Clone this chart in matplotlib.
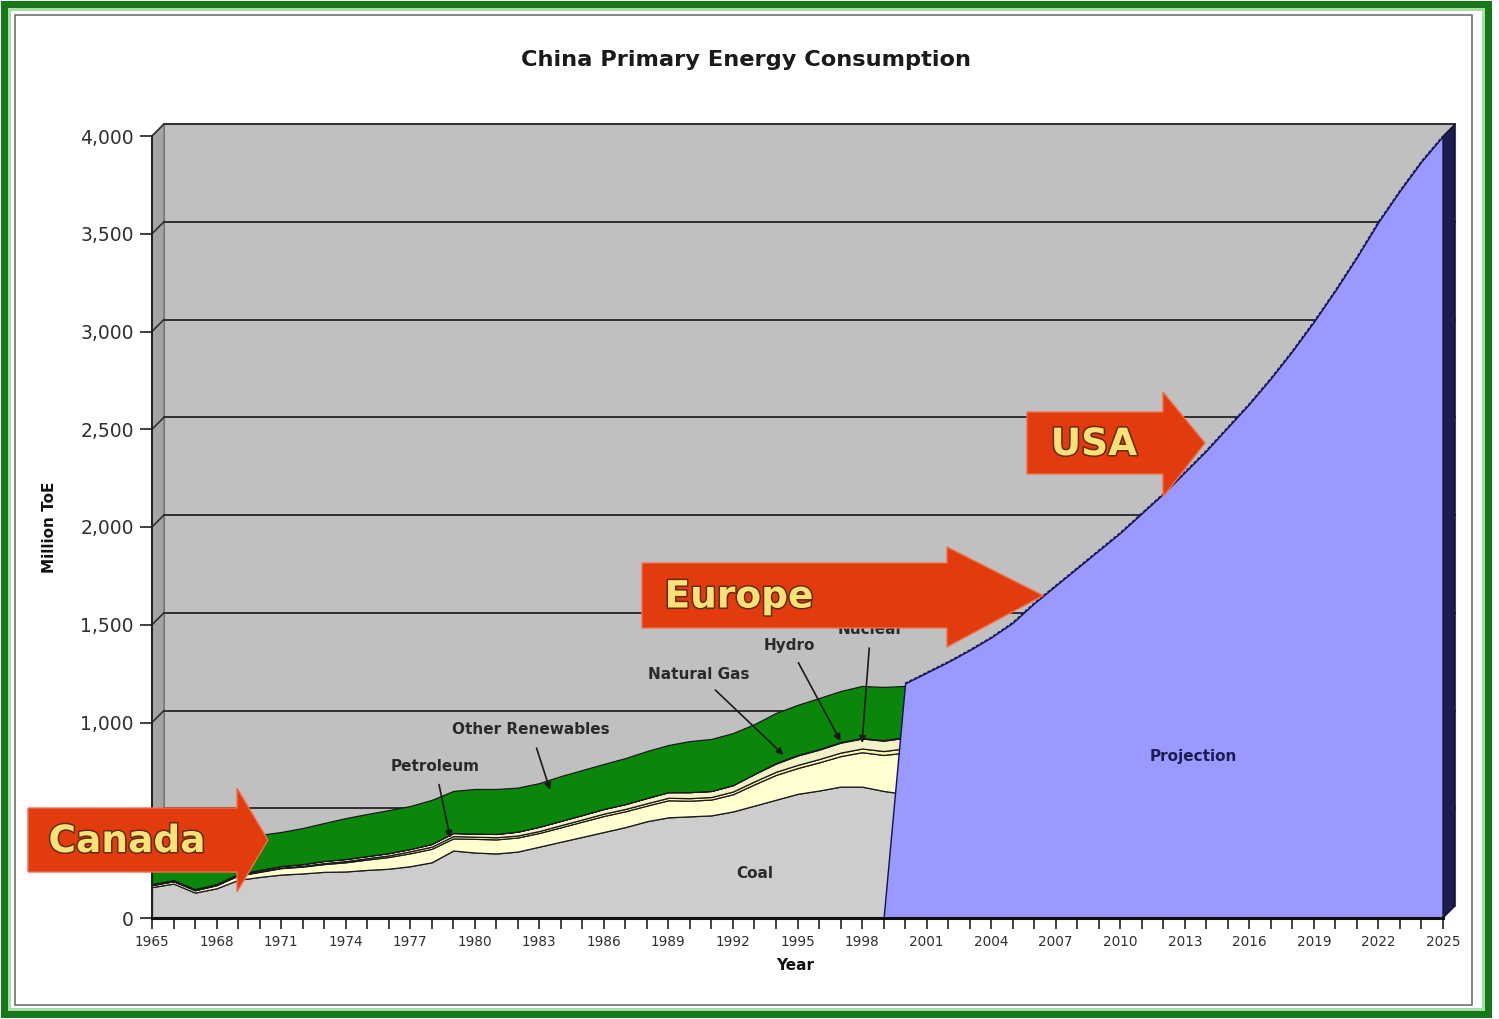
import numpy as np
import matplotlib
matplotlib.use("Agg")
import matplotlib.pyplot as plt
import matplotlib.patches as mpatches
import matplotlib.transforms as mtransforms
import matplotlib.patheffects as pe

# ---------------- data ----------------
hist_years = list(range(1965, 2001))
coal = [158, 176, 130, 152, 195, 210, 222, 228, 236, 238, 246, 252, 265, 285, 345,
        335, 330, 340, 365, 390, 415, 440, 465, 495, 515, 520, 525, 545, 575, 605,
        635, 652, 672, 672, 650, 634]
petroleum = [10, 12, 12, 16, 22, 26, 33, 35, 40, 47, 53, 60, 66, 69, 62,
             70, 72, 72, 70, 74, 78, 82, 81, 80, 87, 80, 81, 88, 109, 127,
             132, 144, 156, 176, 184, 212]
natural_gas = [1, 1, 1, 1, 2, 3, 3, 4, 5, 6, 7, 8, 10, 11, 12,
               11, 11, 10, 10, 11, 11, 12, 12, 12, 13, 13, 13, 14, 15, 16,
               16, 17, 18, 19, 20, 22]
hydro = [5, 5, 5, 5, 6, 7, 8, 9, 11, 11, 11, 12, 12, 14, 16,
         16, 17, 20, 22, 22, 23, 24, 25, 27, 29, 31, 31, 33, 38, 42,
         48, 48, 51, 51, 53, 54]
nuclear = [0] * 29 + [3, 3, 3, 3, 3, 3, 4]
other_renewables = [76, 76, 97, 81, 75, 179, 174, 184, 194, 209, 215, 220, 220, 225, 215,
                    228, 230, 225, 223, 229, 230, 230, 235, 240, 241, 261, 266, 266, 255, 256,
                    256, 261, 261, 266, 272, 261]

proj_years = list(range(1999, 2026))
projection = [0, 1200, 1255, 1310, 1370, 1435, 1510, 1610, 1700, 1790, 1880, 1970,
              2070, 2170, 2280, 2390, 2510, 2630, 2760, 2900, 3050, 3210, 3380,
              3560, 3720, 3870, 4000]

ytick_vals = list(range(0, 4001, 500))
ytick_labels = ["0", "", "1,000", "1,500", "2,000", "2,500", "3,000", "3,500", "4,000"]
xtick_years = list(range(1965, 2026))
xlabel_years = list(range(1965, 2026, 3))

series_names = ["Coal", "Petroleum", "Natural Gas", "Hydro", "Nuclear", "Other Renewables"]

# ---------------- figure ----------------
W, H = 1499, 1019
DPI = 100
fig = plt.figure(figsize=(W / DPI, H / DPI), dpi=DPI, facecolor="white")


def fpx(x, y):
    """pixel (from top-left) -> figure fraction"""
    return (x / W, 1 - y / H)


# outer green frame
fig.add_artist(mpatches.Rectangle(fpx(3.5, 1014), (1488 - 3.5) / W, (1014 - 3.5) / H,
                                  transform=fig.transFigure, fill=False,
                                  ec="#17781a", lw=7 * 72 / DPI))
fig.add_artist(mpatches.Rectangle(fpx(9, 1008.5), (1482.5 - 9) / W, (1008.5 - 9) / H,
                                  transform=fig.transFigure, fill=False,
                                  ec="#a8dca8", lw=3 * 72 / DPI))
fig.add_artist(mpatches.Rectangle(fpx(15, 1005), (1472 - 15) / W, (1005 - 15) / H,
                                  transform=fig.transFigure, fill=False,
                                  ec="#606060", lw=1.5 * 72 / DPI))

x0p, x1p, y0p, y1p = 152, 1443, 918, 136
ax = fig.add_axes([x0p / W, 1 - y0p / H, (x1p - x0p) / W, (y0p - y1p) / H])
ax.set_xlim(1965, 2025)
ax.set_ylim(0, 4000)
ax.patch.set_visible(False)

DEP = 12  # depth offset in pixels
off = mtransforms.ScaledTranslation(DEP / DPI, DEP / DPI, fig.dpi_scale_trans)
back = ax.transData + off
ident = mtransforms.IdentityTransform()

fig.canvas.draw()

# back wall
ax.add_patch(mpatches.Rectangle((1965, 0), 60, 4000, transform=back, fc="#c0c0c0",
                                ec="#808080", lw=0.8, zorder=0, clip_on=False))
# side wall and floor
p_bl = ax.transData.transform((1965, 0))
p_tl = ax.transData.transform((1965, 4000))
p_br = ax.transData.transform((2025, 0))
d = np.array([DEP, DEP])
ax.add_patch(mpatches.Polygon([p_bl, p_tl, p_tl + d, p_bl + d], closed=True,
                              transform=ident, fc="#a4a4a4", ec="#707070", lw=0.8,
                              zorder=0.5, clip_on=False))
ax.add_patch(mpatches.Polygon([p_bl, p_br, p_br + d, p_bl + d], closed=True,
                              transform=ident, fc="#b4b4b4", ec="#707070", lw=0.6,
                              zorder=0.5, clip_on=False))
# gridlines on back wall + side wall
for v in ytick_vals[1:]:
    ax.plot([1965, 2025], [v, v], transform=back, color="#303030", lw=1.4,
            zorder=1, clip_on=False)
    pf = ax.transData.transform((1965, v))
    ax.plot([pf[0], pf[0] + DEP], [pf[1], pf[1] + DEP], transform=ident,
            color="#303030", lw=1.2, zorder=1, clip_on=False)

# stacked historical series
colors = ["#cdcdcd", "#ffffd0", "#fff6b0", "#f4f0c8", "#ffffe0", "#0a870a"]
layers = [coal, petroleum, natural_gas, hydro, nuclear, other_renewables]
base = np.zeros(len(hist_years))
for vals, col in zip(layers, colors):
    top = base + np.array(vals, dtype=float)
    ax.fill_between(hist_years, base, top, facecolor=col, edgecolor="#1a1a1a",
                    lw=0.9, zorder=2)
    base = top

# projection
ax.fill_between(proj_years, 0, projection, facecolor="#9999ff", edgecolor="#101050",
                lw=1.0, zorder=3)
ax.plot(proj_years[1:], projection[1:], color="#1a1a60", lw=1.2, ls=(0, (2, 1)),
        zorder=3.5)
# right side face of projection
pr0 = ax.transData.transform((proj_years[-1], 0))
pr1 = ax.transData.transform((proj_years[-1], projection[-1]))
ax.add_patch(mpatches.Polygon([pr0, pr1, pr1 + d, pr0 + d], closed=True, transform=ident,
                              fc="#1c1c4e", ec="#10102e", lw=0.8, zorder=3,
                              clip_on=False))

# axes styling
for s in ["top", "right"]:
    ax.spines[s].set_visible(False)
ax.spines["left"].set_color("#202020")
ax.spines["bottom"].set_color("#101010")
ax.spines["left"].set_linewidth(1.4)
ax.spines["bottom"].set_linewidth(2.2)
ax.spines["left"].set_zorder(5)
ax.spines["bottom"].set_zorder(5)
ax.set_yticks(ytick_vals)
ax.set_yticklabels(ytick_labels, fontsize=13.5, color="#303030")
ax.set_xticks(xtick_years)
ax.set_xticklabels([str(y) if y in xlabel_years else "" for y in xtick_years],
                   fontsize=9.8, color="#303030")
ax.tick_params(axis="y", length=9, width=1.2, color="#202020", pad=4)
ax.tick_params(axis="x", length=8, width=1.2, color="#202020", pad=4)

fig.text(*fpx(50, 527), "Million ToE", rotation=90, ha="center", va="center",
         fontsize=11, fontweight="bold", color="#111111")
fig.text(*fpx(795, 965), "Year", ha="center", va="center", fontsize=11,
         fontweight="bold", color="#111111")
fig.text(*fpx(746, 60), "China Primary Energy Consumption", ha="center", va="center",
         fontsize=16.2, fontweight="bold", color="#1a1a1a")

# series labels
lab_kw = dict(fontsize=11, fontweight="bold", color="#2a2a2a", ha="center", va="center",
              zorder=6)
ax.text(1993.0, 230, "Coal", **lab_kw)
ax.text(2013.4, 824, "Projection", fontsize=11, fontweight="bold", color="#1c1c52",
        ha="center", va="center", zorder=6)
arrow_kw = dict(arrowstyle="-|>", color="#1a1a1a", lw=1.2, mutation_scale=10,
                shrinkA=6, shrinkB=0)
ax.annotate("Petroleum", xy=(1978.86, 409), xytext=(1978.16, 777),
            arrowprops=arrow_kw, **lab_kw)
ax.annotate("Other Renewables", xy=(1983.5, 655), xytext=(1982.6, 962),
            arrowprops=arrow_kw, **lab_kw)
ax.annotate("Natural Gas", xy=(1994.35, 834), xytext=(1990.4, 1248),
            arrowprops=arrow_kw, **lab_kw)
ax.annotate("Hydro", xy=(1997.0, 905), xytext=(1994.6, 1396),
            arrowprops=arrow_kw, **lab_kw)
ax.annotate("Nuclear", xy=(1998.0, 895), xytext=(1998.4, 1476),
            arrowprops=arrow_kw, **lab_kw)


# big arrows
def big_arrow(x_left, x_head, x_tip, y_top, y_bot, h_top, h_bot, label, tx):
    y_mid = (y_top + y_bot) / 2
    pts = [(x_left, y_top), (x_head, y_top), (x_head, h_top), (x_tip, y_mid),
           (x_head, h_bot), (x_head, y_bot), (x_left, y_bot)]
    fig.add_artist(mpatches.Polygon([fpx(*p) for p in pts], closed=True,
                                    transform=fig.transFigure, fc="#e23c0e",
                                    ec="#f07050", lw=1.0, zorder=10))
    fig.text(*fpx(tx, y_mid + 2), label, ha="center", va="center", fontsize=27,
             fontweight="bold", color="#f7e27a", zorder=11,
             path_effects=[pe.Stroke(linewidth=2.2, foreground="#6a2a05"), pe.Normal()])


big_arrow(28, 237, 268, 808, 872, 788, 892, "Canada", 127)
big_arrow(642, 947, 1043, 563, 628, 547, 647, "Europe", 739)
big_arrow(1027, 1163, 1205, 412, 474, 392, 497, "USA", 1094)

fig.savefig("out.png", dpi=DPI, facecolor="white")
